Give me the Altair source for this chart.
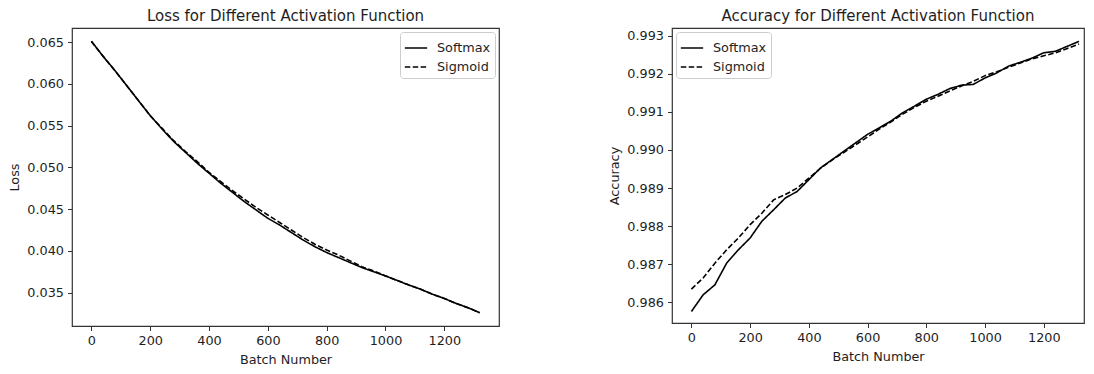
import altair as alt
import pandas as pd

batches = [0, 40, 80, 120, 160, 200, 240, 280, 320, 360, 400, 440, 480, 520, 560, 600, 640,
           680, 720, 760, 800, 840, 880, 920, 960, 1000, 1040, 1080, 1120, 1160, 1200, 1240, 1280, 1320]

loss_softmax = [0.0651, 0.0633, 0.0616, 0.0598, 0.0580, 0.0562, 0.0546, 0.0531, 0.0518, 0.0505,
                0.0493, 0.0481, 0.0470, 0.0459, 0.0449, 0.0439, 0.0431, 0.0422, 0.0413, 0.0405,
                0.0398, 0.0392, 0.0386, 0.0380, 0.0375, 0.0370, 0.03645, 0.0359, 0.0354, 0.0348,
                0.0343, 0.0337, 0.0332, 0.0326]
loss_sigmoid = [0.0651, 0.0633, 0.0616, 0.0598, 0.0580, 0.0562, 0.0547, 0.0532, 0.0519, 0.0507,
                0.0494, 0.0483, 0.0472, 0.0462, 0.0452, 0.0443, 0.0434, 0.0425, 0.0416, 0.0408,
                0.0401, 0.0395, 0.0388, 0.0381, 0.0376, 0.0370, 0.03645, 0.0359, 0.0354, 0.0348,
                0.0343, 0.0337, 0.0332, 0.0326]

acc_softmax = [0.98576, 0.98620, 0.98646, 0.98703, 0.98738, 0.98769, 0.98813, 0.98843, 0.98874,
               0.98891, 0.98922, 0.98953, 0.98975, 0.98997, 0.99019, 0.99041, 0.99058, 0.99076,
               0.99098, 0.99115, 0.99133, 0.99146, 0.99161, 0.99170, 0.99172, 0.99189, 0.99202,
               0.99220, 0.99230, 0.99241, 0.99255, 0.99259, 0.99272, 0.99285]
acc_sigmoid = [0.98635, 0.98664, 0.98703, 0.98738, 0.98769, 0.98804, 0.98834, 0.98869, 0.98883,
               0.98900, 0.98926, 0.98952, 0.98974, 0.98994, 0.99014, 0.99034, 0.99055, 0.99074,
               0.99094, 0.99112, 0.99128, 0.99141, 0.99155, 0.99168, 0.99180, 0.99195, 0.99205,
               0.99217, 0.99228, 0.99239, 0.99247, 0.99255, 0.99266, 0.99278]

series_names = ["Softmax", "Sigmoid"]
x_ticks = [0, 200, 400, 600, 800, 1000, 1200]
loss_ticks = [0.035, 0.040, 0.045, 0.050, 0.055, 0.060, 0.065]
acc_ticks = [0.986, 0.987, 0.988, 0.989, 0.990, 0.991, 0.992, 0.993]


def make_df(a, b):
    rows = []
    for name, vals in zip(series_names, [a, b]):
        for x, v in zip(batches, vals):
            rows.append({"batch": x, "value": v, "series": name})
    return pd.DataFrame(rows)


loss_df = make_df(loss_softmax, loss_sigmoid)
acc_df = make_df(acc_softmax, acc_sigmoid)

FONT = "DejaVu Sans"
TXT = "#1e1e1e"
FS = 12.8


def panel(df, title, ytitle, ydomain, yticks, orient, width, height, xdomain):
    return alt.Chart(
        df,
        title=alt.Title(title, fontSize=15, font=FONT, fontWeight="normal", color=TXT,
                        anchor="middle", offset=4),
    ).mark_line(color="black", strokeWidth=1.6).encode(
        x=alt.X("batch:Q",
                scale=alt.Scale(domain=xdomain, nice=False, zero=False),
                axis=alt.Axis(values=x_ticks, title="Batch Number", format="d")),
        y=alt.Y("value:Q",
                scale=alt.Scale(domain=ydomain, nice=False, zero=False),
                axis=alt.Axis(values=yticks, title=ytitle, format=".3f")),
        strokeDash=alt.StrokeDash(
            "series:N",
            scale=alt.Scale(domain=series_names, range=[[1, 0], [5.5, 2.4]]),
            legend=alt.Legend(title=None, orient=orient, offset=4,
                              fillColor="white", strokeColor="#cccccc", cornerRadius=3,
                              padding=4, symbolType="stroke", symbolSize=500,
                              symbolStrokeColor="black", symbolStrokeWidth=1.6,
                              labelFont=FONT, labelFontSize=FS, labelColor=TXT,
                              labelOffset=9, rowPadding=0),
        ),
    ).properties(width=width, height=height)


left = panel(loss_df, "Loss for Different Activation Function", "Loss",
             [0.031, 0.0667], loss_ticks, "top-right", 427, 298, [-66, 1386])
right = panel(acc_df, "Accuracy for Different Activation Function", "Accuracy",
              [0.98546, 0.9932], acc_ticks, "top-left", 412, 295, [-66, 1337])

chart = alt.hconcat(left, right, spacing=108).resolve_legend(
    strokeDash="independent"
).resolve_scale(
    y="independent", x="independent", strokeDash="independent"
).properties(
    padding={"left": 0, "top": 0, "right": 0, "bottom": 0},
    background="white",
).configure_view(
    stroke="#333333", strokeWidth=1.2
).configure_axis(
    domain=False, grid=False, ticks=True, tickSize=4.5, tickColor="#333333",
    tickWidth=1, labelFont=FONT, labelFontSize=FS, labelColor=TXT, labelPadding=4,
    titleFont=FONT, titleFontSize=FS, titleFontWeight="normal", titleColor=TXT,
    titlePadding=5,
).configure_axisX(titlePadding=6)

chart.save("out.html", embed_options={"renderer": "svg", "actions": False})
